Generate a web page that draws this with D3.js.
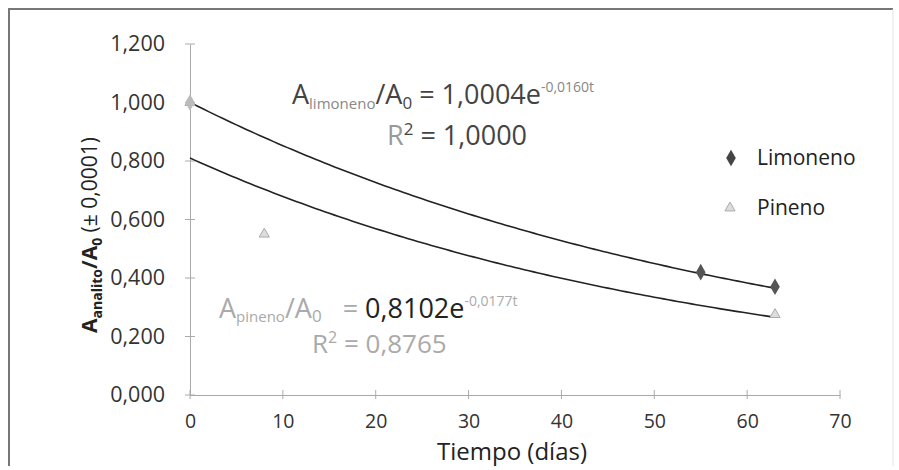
<!DOCTYPE html>
<html>
<head>
<meta charset="utf-8">
<script src="https://cdn.jsdelivr.net/npm/d3@7"></script>
<style>
  body { margin: 0; background: #fff; }
  text { font-family: "Open Sans", sans-serif; }
</style>
</head>
<body>
<svg id="chart" width="899" height="470"></svg>
<script>
// data
var limDias = [0, 55, 63];
var limVals = [1.0, 0.42, 0.37];
var pinDias = [0, 8, 63];
var pinVals = [1.0, 0.55, 0.275];
// exponential trendlines (a * e^(b t)) as printed in the chart
var limFit = [1.0004, -0.0160];
var pinFit = [0.8102, -0.0177];
var xTicks = [0, 10, 20, 30, 40, 50, 60, 70];
var yTicks = [0, 0.2, 0.4, 0.6, 0.8, 1.0, 1.2];
var series = ["Limoneno", "Pineno"];

var svg = d3.select("#chart");

// frame
svg.append("path").attr("d", "M9,466 L9,9 L893,9")
  .attr("fill", "none").attr("stroke", "#777").attr("stroke-width", 2);
svg.append("line").attr("x1", 893).attr("x2", 893).attr("y1", 9).attr("y2", 466)
  .attr("stroke", "#e4e4e4").attr("stroke-width", 1);

var x = d3.scaleLinear().domain([0, 70]).range([190, 840]);
var y = d3.scaleLinear().domain([0, 1.2]).range([395, 44]);
var fmt = function (d) { return d3.format(".3f")(d).replace(".", ","); };

// y axis
var gy = svg.append("g").attr("transform", "translate(190,0)")
  .call(d3.axisLeft(y).tickValues(yTicks).tickSize(0).tickPadding(25).tickFormat(fmt));
gy.select(".domain").attr("stroke", "#aaa");
gy.selectAll("text").attr("font-size", 21.5).attr("fill", "#333");
gy.selectAll(".tk").data(yTicks).join("line")
  .attr("x1", -5).attr("x2", 5)
  .attr("y1", function (d) { return y(d); }).attr("y2", function (d) { return y(d); })
  .attr("stroke", "#aaa");

// x axis
var gx = svg.append("g").attr("transform", "translate(0,395)")
  .call(d3.axisBottom(x).tickValues(xTicks).tickSize(0).tickPadding(19));
gx.select(".domain").attr("stroke", "#aaa");
gx.selectAll("text").attr("font-size", 19.5).attr("fill", "#333");
gx.selectAll(".tk").data(xTicks).join("line")
  .attr("x1", function (d) { return x(d); }).attr("x2", function (d) { return x(d); })
  .attr("y1", -5).attr("y2", 4)
  .attr("stroke", "#aaa");

// axis titles
svg.append("text").attr("x", 512).attr("y", 460).attr("text-anchor", "middle")
  .attr("font-size", 24).attr("fill", "#222").text("Tiempo (días)");

var yt = svg.append("text").attr("transform", "translate(97,235) rotate(-90)")
  .attr("text-anchor", "middle").attr("font-size", 21).attr("fill", "#222");
yt.append("tspan").attr("font-weight", "bold").text("A");
yt.append("tspan").attr("font-weight", "bold").attr("font-size", 14).attr("dy", 5).text("analito");
yt.append("tspan").attr("font-weight", "bold").attr("dy", -5).text("/A");
yt.append("tspan").attr("font-weight", "bold").attr("font-size", 14).attr("dy", 5).text("0");
yt.append("tspan").attr("dy", -5).text(" (± 0,0001)");

// trendlines
var line = d3.line().x(function (d) { return x(d[0]); }).y(function (d) { return y(d[1]); });
function curve(fit) {
  return d3.range(0, 63.01, 0.5).map(function (t) { return [t, fit[0] * Math.exp(fit[1] * t)]; });
}
svg.append("path").attr("d", line(curve(limFit))).attr("fill", "none")
  .attr("stroke", "#222").attr("stroke-width", 1.6);
svg.append("path").attr("d", line(curve(pinFit))).attr("fill", "none")
  .attr("stroke", "#222").attr("stroke-width", 1.6);

// markers
var diamond = d3.symbol().type(d3.symbolDiamond).size(80);
var tri = d3.symbol().type(d3.symbolTriangle).size(45);
svg.selectAll(".pin").data(pinDias).join("path")
  .attr("transform", function (d, i) { return "translate(" + x(d) + "," + y(pinVals[i]) + ")"; })
  .attr("d", tri).attr("fill", "#ddd").attr("stroke", "#aaa").attr("stroke-width", 1);
svg.selectAll(".lim").data(limDias).join("path")
  .attr("transform", function (d, i) { return "translate(" + x(d) + "," + y(limVals[i]) + ")"; })
  .attr("d", diamond).attr("fill", function (d) { return d === 0 ? "#bbb" : "#555"; });

// legend
var lg = svg.append("g");
lg.append("path").attr("transform", "translate(731,158)").attr("d", diamond).attr("fill", "#444");
lg.append("path").attr("transform", "translate(730,208)").attr("d", tri)
  .attr("fill", "#ddd").attr("stroke", "#aaa");
lg.selectAll(".lt").data(series).join("text")
  .attr("x", 757).attr("y", function (d, i) { return 165 + i * 50; })
  .attr("font-size", 21).attr("fill", "#222").text(function (d) { return d; });

// limoneno equation
var e1 = svg.append("text").attr("x", 292).attr("y", 104).attr("font-size", 27).attr("fill", "#444");
e1.append("tspan").text("A");
e1.append("tspan").attr("font-size", 15).attr("dy", 5).attr("fill", "#888").text("limoneno");
e1.append("tspan").attr("dy", -5).text("/A");
e1.append("tspan").attr("font-size", 17).attr("dy", 5).text("0");
e1.append("tspan").attr("dy", -5).text(" = 1,0004e");
e1.append("tspan").attr("font-size", 14).attr("dy", -12).attr("fill", "#888").text("-0,0160t");
var r1 = svg.append("text").attr("x", 457).attr("y", 145).attr("text-anchor", "middle")
  .attr("font-size", 27).attr("fill", "#444");
r1.append("tspan").attr("fill", "#999").text("R");
r1.append("tspan").attr("font-size", 17).attr("dy", -10).text("2");
r1.append("tspan").attr("dy", 10).text(" = 1,0000");

// pineno equation
var e2 = svg.append("text").attr("x", 219).attr("y", 318).attr("font-size", 27).attr("fill", "#aaa");
e2.append("tspan").text("A");
e2.append("tspan").attr("font-size", 15).attr("dy", 4).text("pineno");
e2.append("tspan").attr("dy", -4).text("/A");
e2.append("tspan").attr("font-size", 17).attr("dy", 4).text("0");
e2.append("tspan").attr("dy", -4).text("\u00a0\u00a0\u00a0= ");
e2.append("tspan").attr("fill", "#222").text("0,8102e");
e2.append("tspan").attr("font-size", 14).attr("dy", -12).text("-0,0177t");
var r2 = svg.append("text").attr("x", 312).attr("y", 353)
  .attr("font-size", 26).attr("fill", "#aaa");
r2.append("tspan").text("R");
r2.append("tspan").attr("font-size", 16).attr("dy", -10).text("2");
r2.append("tspan").attr("dy", 10).text(" = 0,8765");
</script>
</body>
</html>
